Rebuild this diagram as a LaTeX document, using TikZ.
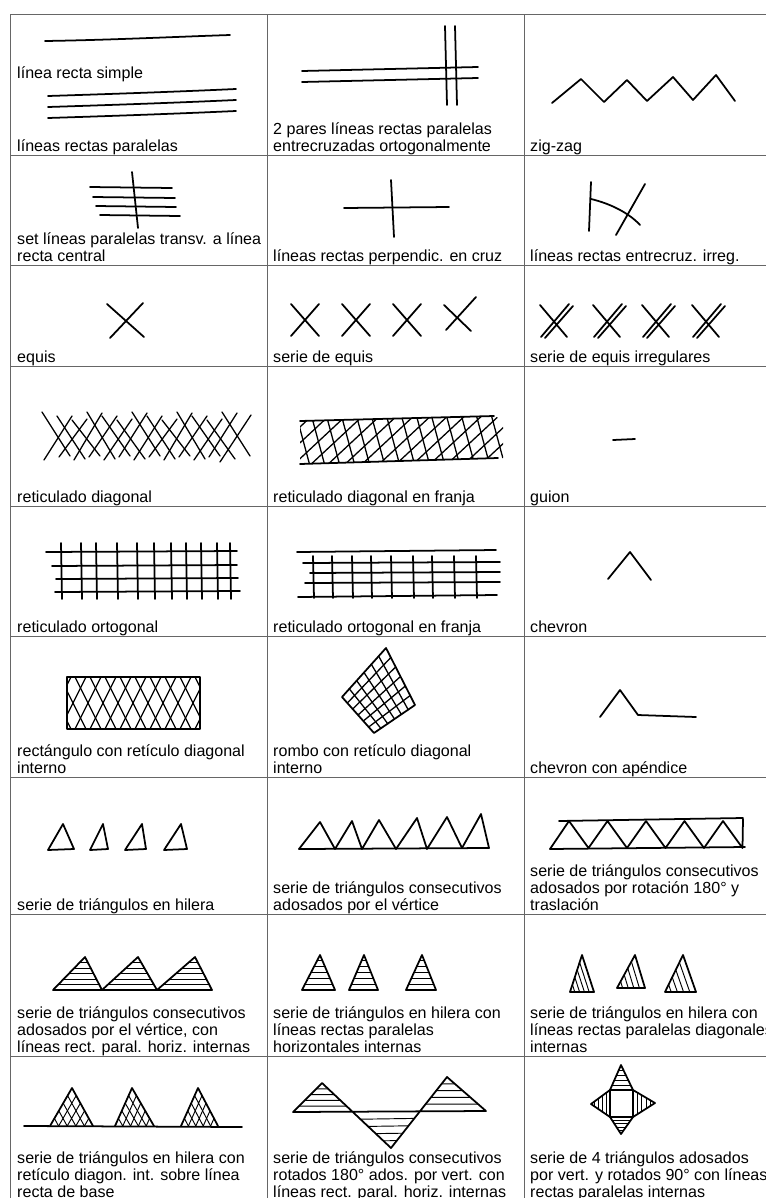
\documentclass[tikz,border=0pt]{standalone}
\usepackage{fontspec}
\setmainfont{Liberation Sans}
\usetikzlibrary{calc}

\begin{document}
\begin{tikzpicture}[
  x=0.03cm, y=-0.03cm,
  tbl/.style={line width=0.8pt, black!60},
  pen/.style={line width=1.5pt, line cap=round, line join=round},
  mid/.style={line width=1.1pt, line cap=round},
  hatch/.style={line width=0.8pt},
  caption/.style={anchor=base west, align=left, inner sep=0pt, font=\fontsize{13.7}{14.2}\selectfont}
]
\useasboundingbox (0,0) rectangle (766,1198);
\clip (0,0) rectangle (766,1198);
\foreach \y in {14,155,265,366,506,636,777,914,1056} \draw[tbl] (10,\y) -- (780,\y);
\foreach \x in {10,267,524} \draw[tbl] (\x,14) -- (\x,1210);

\draw[pen] (45,41) .. controls (110,40) and (170,37) .. (230,35);
\foreach \d in {0,11,22} \draw[pen] (48,96+\d) .. controls (110,94+\d) and (170,92+\d) .. (236,89+\d);
\foreach \d in {0,11} \draw[pen] (302,71+\d) -- (478,67+\d);
\foreach \d in {0,10} \draw[pen] (445+\d,26) -- (447+\d,105);
\draw[pen] (552,103) -- (581,79) -- (604,102) -- (627,80) -- (647,101) -- (673,77) -- (693,100) -- (716,75) -- (735,101);

\foreach \y/\a/\b in {187/90/172,197/93/175,206/96/176,215/100/180} \draw[pen] (\a,\y) -- (\b,\y+1);
\draw[pen] (132,172) -- (138,228);
\draw[pen] (391,180) -- (394,237);
\draw[pen] (344,208) -- (449,207);
\draw[pen] (591,182) -- (589,231);
\draw[pen] (591,199) .. controls (612,204) and (630,214) .. (640,225);
\draw[pen] (645,184) -- (616,235);

\draw[pen] (107,304) -- (144,337) (143,303) -- (110,338);
\foreach \x in {305,356,407} \draw[pen] (\x-14,304) -- (\x+14,336) (\x+14,304) -- (\x-14,336);
\draw[pen] (444,305) -- (471,331) (476,297) -- (446,330);
\foreach \x in {555,608,657,707} \draw[pen] (\x-15,305) -- (\x+12,337) (\x+14,304) -- (\x-14,337) (\x+18,306) -- (\x-10,338);

\foreach \i in {0,...,12} \draw[mid] ({42+15*\i},{412+4*mod(\i,3)}) -- ({70+15*\i},{456+3*mod(\i,2)});
\foreach \i in {0,...,11} \draw[mid] ({44+15*\i},{460-3*mod(\i,2)}) -- ({72+15*\i},{413+3*mod(\i+1,3)});
\draw[mid] (220,462) -- (251,415);
\begin{scope}
  \clip (300,421) -- (494,416) -- (503,420) -- (503,458) -- (300,464) -- cycle;
  \foreach \i in {0,...,13} \draw[mid] ({296+15*\i},414) -- ({310+15*\i},466);
  \foreach \i in {-3,...,11} \draw[mid] ({290+17*\i},468) -- ({350+17*\i},412);
\end{scope}
\draw[pen] (300,421) -- (494,416);
\draw[pen] (300,464) -- (498,458);
\draw[pen] (613,440) -- (635,439);

\foreach \y/\a/\b in {552/46/237,566/52/237,579/56/238,592/55/240} \draw[pen] (\a,\y) -- (\b,\y-1);
\foreach \x in {61,81,96,117,137,154,171,186,201,217,230} \draw[pen] (\x,543) -- (\x+1,599);
\draw[pen] (297,552) -- (496,550);
\draw[pen] (298,597) -- (497,595);
\foreach \y/\a in {563/303,573/310,583/305} \draw[pen] (\a,\y) -- (500,\y-1);
\foreach \x in {313,332,352,371,391,413,432,454,476} \draw[pen] (\x,556) -- (\x+1,598);
\draw[pen] (608,579) -- (630,552) -- (651,580);

\begin{scope}
  \clip (67,677) rectangle (200,729);
  \foreach \i in {-3,...,10} \draw[mid] ({60+15*\i},677) -- ({86+15*\i},729) ({60+15*\i},729) -- ({86+15*\i},677);
\end{scope}
\draw[pen] (67,677) rectangle (200,729);
\coordinate (rt) at (386,648);
\coordinate (rr) at (415,705);
\coordinate (rb) at (374,733);
\coordinate (rl) at (342,697);
\foreach \k in {1,...,5} \draw[mid] ($(rl)!\k/6!(rt)$) -- ($(rb)!\k/6!(rr)$) ($(rl)!\k/6!(rb)$) -- ($(rt)!\k/6!(rr)$);
\draw[pen] (rl) -- (rt) -- (rr) -- (rb) -- cycle;
\draw[pen] (600,717) -- (620,690) -- (638,715) -- (696,717);

\foreach \a/\l/\r in {63/48/74,103/90/108,142/125/146,181/164/187} \draw[pen] (\a,824) -- (\l,850) -- (\r,849) -- cycle;
\draw[pen] (299,849) -- (320,822) -- (335,849) -- (352,821) -- (362,849) -- (379,820) -- (396,849) -- (417,818) -- (427,849) -- (447,817) -- (462,848) -- (481,814) -- (489,848);
\draw[pen] (299,849) -- (489,848);
\draw[pen] (550,849) \foreach \i in {0,...,4} { -- ({569+38.5*\i},821) -- ({588.5+38.5*\i},848) } -- (743,819);
\draw[pen] (559,821) -- (743,818);
\draw[pen] (550,849) -- (745,847);

\foreach \l/\a/\r in {53/85/102,102/138/157,157/195/212} {
  \coordinate (l) at (\l,990);
  \coordinate (a) at (\a,957);
  \coordinate (r) at (\r,990);
  \foreach \k in {1,...,5} \draw[hatch] ($(a)!\k/6!(l)$) -- ($(a)!\k/6!(r)$);
  \draw[pen] (l) -- (a) -- (r) -- cycle;
}
\foreach \l/\a/\r in {302/320/335,349/364/378,406/422/436} {
  \coordinate (l) at (\l,990);
  \coordinate (a) at (\a,955);
  \coordinate (r) at (\r,990);
  \foreach \k in {1,...,5} \draw[hatch] ($(a)!\k/6!(l)$) -- ($(a)!\k/6!(r)$);
  \draw[pen] (l) -- (a) -- (r) -- cycle;
}
\foreach \l/\a/\r/\b in {570/582/594/992,617/635/645/988,665/683/696/992} {
  \coordinate (l) at (\l,\b);
  \coordinate (a) at (\a,955);
  \coordinate (r) at (\r,\b);
  \foreach \k in {1,...,4} \draw[hatch] ($(l)!\k/5!(a)$) -- ($(l)!\k/5!(r)$);
  \draw[pen] (l) -- (a) -- (r) -- cycle;
}

\draw[pen] (24,1126) -- (242,1127);
\foreach \l/\a/\r in {50/72/93,115/132/154,181/198/218} {
  \coordinate (l) at (\l,1126);
  \coordinate (a) at (\a,1088);
  \coordinate (r) at (\r,1126);
  \foreach \k in {1,...,4} \draw[hatch] ($(l)!\k/5!(r)$) -- ($(a)!\k/5!(r)$) ($(r)!\k/5!(l)$) -- ($(a)!\k/5!(l)$);
  \draw[pen] (l) -- (a) -- (r);
}
\coordinate (zs) at (293,1112);
\coordinate (za) at (322,1083);
\coordinate (zv) at (391,1148);
\coordinate (zb) at (447,1077);
\coordinate (ze) at (486,1111);
\coordinate (zl) at (353,1112);
\coordinate (zr) at (420,1111);
\foreach \k in {1,...,4} \draw[hatch] ($(za)!\k/5!(zs)$) -- ($(za)!\k/5!(zl)$) ($(zv)!\k/5!(zl)$) -- ($(zv)!\k/5!(zr)$) ($(zb)!\k/5!(zr)$) -- ($(zb)!\k/5!(ze)$);
\draw[pen] (zs) -- (za) -- (zv) -- (zb) -- (ze) -- cycle;
\coordinate (s1) at (610,1090);
\coordinate (s2) at (633,1090);
\coordinate (s3) at (633,1117);
\coordinate (s4) at (610,1117);
\coordinate (pt) at (621,1065);
\coordinate (pb) at (621,1134);
\coordinate (pl) at (591,1104);
\coordinate (pr) at (655,1103);
\foreach \k in {1,...,4} \draw[hatch] ($(pt)!\k/5!(s1)$) -- ($(pt)!\k/5!(s2)$) ($(pb)!\k/5!(s4)$) -- ($(pb)!\k/5!(s3)$) ($(pl)!\k/5!(s1)$) -- ($(pl)!\k/5!(s4)$) ($(pr)!\k/5!(s2)$) -- ($(pr)!\k/5!(s3)$);
\draw[pen] (s1) -- (s2) -- (s3) -- (s4) -- cycle;
\draw[pen] (s1) -- (pt) -- (s2) -- (pr) -- (s3) -- (pb) -- (s4) -- (pl) -- cycle;

\node[caption] (simple) at (17,78) {línea recta simple};
\node[caption] (paralelas) at (17,151) {líneas rectas paralelas};
\node[caption] (pares) at (273,151) {2 pares líneas rectas paralelas\\entrecruzadas ortogonalmente};
\node[caption] (zigzag) at (530,151) {zig-zag};
\node[caption] (transv) at (17,261) {set líneas paralelas transv. a línea\\recta central};
\node[caption] (cruz) at (273,261) {líneas rectas perpendic. en cruz};
\node[caption] (irreg) at (530,261) {líneas rectas entrecruz. irreg.};
\node[caption] (equis) at (17,362) {equis};
\node[caption] (serieeq) at (273,362) {serie de equis};
\node[caption] (equisirr) at (530,362) {serie de equis irregulares};
\node[caption] (retdiag) at (17,502) {reticulado diagonal};
\node[caption] (retdiagfr) at (273,502) {reticulado diagonal en franja};
\node[caption] (guion) at (530,502) {guion};
\node[caption] (retort) at (17,632) {reticulado ortogonal};
\node[caption] (retortfr) at (273,632) {reticulado ortogonal en franja};
\node[caption] (chevron) at (530,632) {chevron};
\node[caption] (rectret) at (17,773) {rectángulo con retículo diagonal\\interno};
\node[caption] (romboret) at (273,773) {rombo con retículo diagonal\\interno};
\node[caption] (chevap) at (530,773) {chevron con apéndice};
\node[caption] (trihil) at (17,910) {serie de triángulos en hilera};
\node[caption] (trivert) at (273,910) {serie de triángulos consecutivos\\adosados por el vértice};
\node[caption] (trirot) at (530,910) {serie de triángulos consecutivos\\adosados por rotación 180° y\\traslación};
\node[caption] (trivhor) at (17,1052) {serie de triángulos consecutivos\\adosados por el vértice, con\\líneas rect. paral. horiz. internas};
\node[caption] (trihilhor) at (273,1052) {serie de triángulos en hilera con\\líneas rectas paralelas\\horizontales internas};
\node[caption] (trihildiag) at (530,1052) {serie de triángulos en hilera con\\líneas rectas paralelas diagonales\\internas};
\node[caption] (trihilret) at (17,1197) {serie de triángulos en hilera con\\retículo diagon. int. sobre línea\\recta de base};
\node[caption] (trirotados) at (273,1197) {serie de triángulos consecutivos\\rotados 180° ados. por vert. con\\líneas rect. paral. horiz. internas};
\node[caption] (tricuatro) at (530,1197) {serie de 4 triángulos adosados\\por vert. y rotados 90° con líneas\\rectas paralelas internas};
\end{tikzpicture}
\end{document}
